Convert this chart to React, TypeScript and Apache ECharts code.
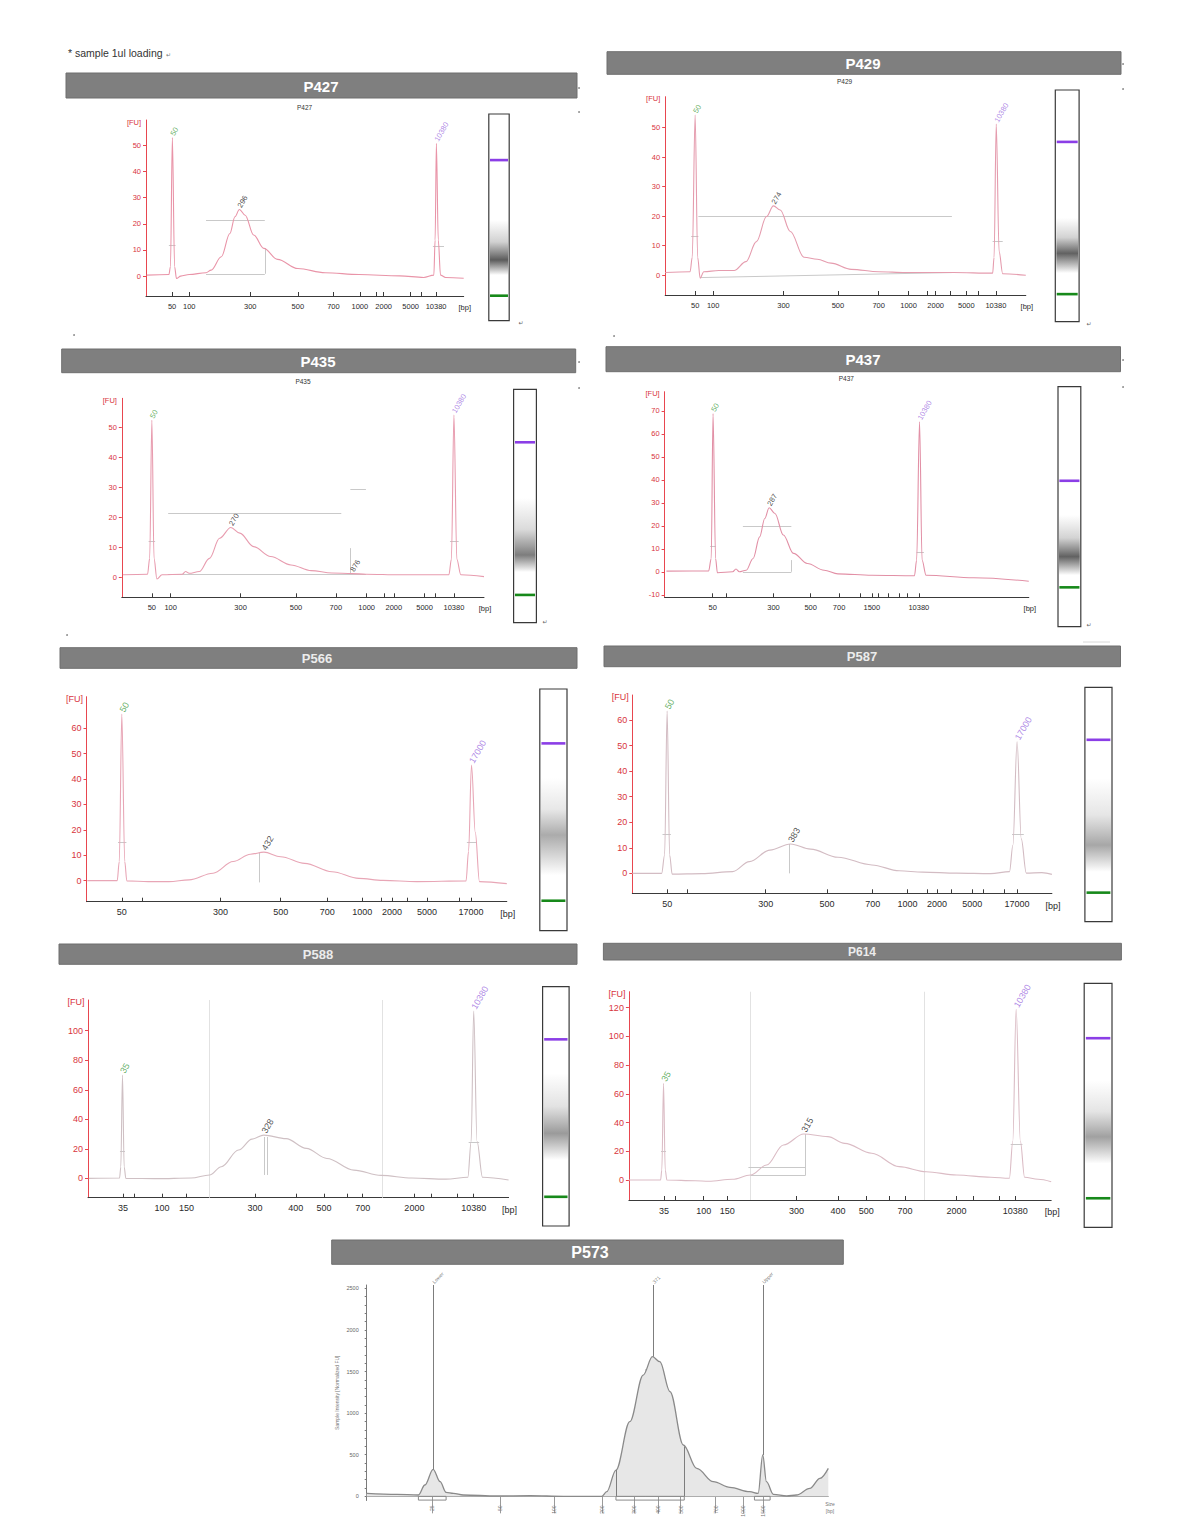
import React, { useEffect, useRef } from "react";
import * as echarts from "echarts";

const FONT = '"Liberation Sans Narrow", "Liberation Sans", Arial, sans-serif';

// ---------------- data (x = migration position 0..100 along each axis, y = FU) ----------------
const P427_trace = [[0.2,0.4],[7.2,0.6],[7.7,3.6],[8.3,53],[9.0,3.6],[9.6,-0.9],[10.9,0],[13.6,0.6],[18.9,1.3],[20.5,2.3],[23.7,7.4],[26.4,16.3],[28.0,22.7],[29.4,25.5],[31.2,23.3],[33.9,15.7],[37.1,10.6],[41.4,6.4],[47.8,2.9],[56.4,1.3],[67.1,0.6],[79.9,0.1],[87.4,-0.5],[90.6,0.4],[91.0,13.8],[91.4,50.8],[92.0,13.8],[92.7,0.4],[94.3,-0.5],[100,-0.8]];
const P427_tickPos = [8.2,13.6,32.8,47.8,59.0,67.3,74.8,83.3,91.3];
const P427_tickLbl = ["50","100","300","500","700","1000","2000","5000","10380"];
const P427_minor = [72.4,86.5];
const P427_yRange = [-7.6, 59.7];
const P427_peaks = [[8.3,53,"50",0],[29.4,25.5,"296",1],[91.4,50.8,"10380",2]];
const P427_regions = [[18.9,21.4,37.4,21.4],[18.9,0.9,37.4,0.9],[37.4,0.9,37.4,10.6],[7.2,11.9,9.3,11.9],[90.3,11.5,93.8,11.5]];

const P429_trace = [[0,0.9],[6.9,1.2],[7.5,6.1],[8.3,54.3],[9.0,6.1],[9.7,-1.0],[10.7,1.2],[14.9,1.6],[19.1,1.6],[22.4,4.6],[25.3,11.4],[28.1,19.9],[30.0,23.5],[31.9,22.1],[34.7,14.8],[38.5,6.1],[42.2,5.4],[46.0,4.1],[51.6,2.0],[59.2,1.2],[66.7,0.9],[79.9,0.9],[90.8,0.7],[91.2,6],[91.8,51.2],[92.6,8],[93.6,0.5],[100,0]];
const P429_tickPos = [8.3,13.3,32.8,47.9,59.2,67.5,75.0,83.5,91.7];
const P429_tickLbl = ["50","100","300","500","700","1000","2000","5000","10380"];
const P429_minor = [72.6,79.0,86.8];
const P429_yRange = [-6.7, 60.5];
const P429_peaks = [[8.3,54.3,"50",0],[30.0,23.5,"274",1],[91.8,51.2,"10380",2]];
const P429_regions = [[9.2,20.1,79.5,20.1],[9.7,-0.8,79.5,0.9],[7.2,13.3,9.2,13.3],[90.8,11.6,93.6,11.6]];

const P435_trace = [[0.3,0.8],[7.1,1.0],[7.7,6.3],[8.3,52.4],[8.9,6.3],[9.7,-0.6],[11.1,0.8],[16.7,1.0],[17.6,1.9],[18.6,1.3],[21.4,1.9],[24.2,6.3],[27.0,13.0],[30.1,16.6],[32.6,14.7],[36.4,10.2],[41.1,6.9],[46.7,4.1],[52.3,2.2],[58.0,1.4],[63.6,1.2],[67.4,1.0],[76.7,0.8],[90.3,0.8],[91.0,6],[91.7,54.1],[92.5,6],[93.6,0.8],[100,0.2]];
const P435_tickPos = [8.3,13.5,32.8,48.1,59.1,67.6,75.1,83.6,91.7];
const P435_tickLbl = ["50","100","300","500","700","1000","2000","5000","10380"];
const P435_minor = [72.5,86.6];
const P435_yRange = [-6.7, 59.7];
const P435_peaks = [[8.3,52.4,"50",0],[30.1,16.6,"270",1],[63.6,1.2,"876",1],[91.7,54.1,"10380",2]];
const P435_regions = [[12.8,21.3,60.6,21.3],[63.1,29.3,67.4,29.3],[12.8,1.0,67.4,1.0],[63.1,1.0,63.1,9.7],[7.4,12,9.2,12],[90.6,11.9,93.0,11.9]];

const P437_trace = [[0.5,0.3],[12.1,0.4],[12.8,5.8],[13.3,68.9],[14.0,5.8],[14.5,-0.4],[18.7,0],[19.6,1.2],[20.5,0],[22.4,0.7],[24.3,5.8],[26.1,15.2],[27.5,23.2],[28.7,27.9],[30.3,25.4],[32.6,16.0],[35.4,8.0],[39.2,3.6],[43.8,0.7],[47.6,-0.9],[56.9,-1.5],[68.6,-1.7],[69.2,5],[70.0,65.3],[70.7,5],[71.8,-1.5],[84.9,-2.6],[100,-4.1]];
const P437_tickPos = [13.2,29.9,40.1,47.9,56.9,69.8];
const P437_tickLbl = ["50","300","500","700","1500","10380"];
const P437_minor = [17.0,53.6,58.8,61.4,64.4,66.5];
const P437_yRange = [-11.1, 78.4];
const P437_peaks = [[13.3,68.9,"50",0],[28.7,27.9,"287",1],[70.0,65.3,"10380",2]];
const P437_regions = [[21.5,19.9,34.8,19.9],[21.5,0,34.8,0],[34.8,0,34.8,5.1],[12.5,11,14.0,11],[69.2,8.7,71.2,8.7]];

const P566_trace = [[0.2,0],[7.3,0],[7.8,7.5],[8.4,65.6],[9.1,7.5],[9.6,-0.1],[14.7,-0.4],[19.6,-0.4],[24.4,0.3],[30.1,2.9],[34.9,7.5],[39.0,10.4],[42.2,11.2],[46.2,9.4],[51.9,6.8],[58.4,3.5],[64.8,0.9],[70.5,0.1],[78.6,-0.4],[90.3,-0.1],[90.9,11.5],[91.6,45.5],[92.5,19],[93.5,-0.4],[100,-1.2]];
const P566_tickPos = [8.4,31.9,46.2,57.3,65.6,72.7,81.0,91.5];
const P566_tickLbl = ["50","300","500","700","1000","2000","5000","17000"];
const P566_minor = [13.3,70.1,76.2,88.7];
const P566_yRange = [-8.3, 72.4];
const P566_peaks = [[8.4,65.6,"50",0],[42.2,11.2,"432",1],[91.6,45.5,"17000",2]];
const P566_regions = [[41.1,-0.7,41.1,11],[7.5,15.2,9.5,15.2],[90.5,15,92.8,15]];

const P587_trace = [[0,0],[7.0,0],[7.7,7.2],[8.3,63.5],[8.9,7.2],[9.5,-0.3],[16.6,-0.1],[23.9,0.7],[27.9,4.6],[32.8,9.1],[37.7,11.5],[42.5,9.5],[49.0,6.3],[57.1,3.3],[63.6,1.0],[69.2,0.5],[77.3,0.1],[85.4,-0.1],[89.9,0.7],[90.7,11],[91.7,51.5],[92.7,13.5],[93.9,0.1],[97.6,0.3],[100,-0.4]];
const P587_tickPos = [8.3,31.8,46.4,57.3,65.6,72.6,81.0,91.7];
const P587_tickLbl = ["50","300","500","700","1000","2000","5000","17000"];
const P587_minor = [13.2,70.2,76.1,83.6,88.7];
const P587_yRange = [-7.8, 69.8];
const P587_peaks = [[8.3,63.5,"50",0],[37.7,11.5,"383",1],[91.7,51.5,"17000",2]];
const P587_regions = [[37.5,0,37.5,11.5],[7.2,15.3,9.2,15.3],[90.5,15.5,93.3,15.5]];

const P588_trace = [[0.2,0],[7.5,0.2],[7.8,7.7],[8.2,70.0],[8.6,7.7],[9.0,0],[16.4,-0.2],[24.5,0.2],[28.9,2.3],[31.7,7.9],[35.8,19.2],[39.0,26.6],[41.8,29.3],[47.1,26.9],[51.9,20.3],[56.8,13.5],[63.2,5.6],[69.7,2.0],[77.0,0.2],[85.1,-0.5],[90.3,0.7],[91.1,25],[91.7,113.3],[92.5,25],[93.8,0.7],[100,-1.1]];
const P588_tickPos = [8.3,17.6,23.4,39.7,49.4,56.1,65.3,77.6,91.7];
const P588_tickLbl = ["35","100","150","300","400","500","700","2000","10380"];
const P588_minor = [10.9,28.9,61.6,70.0,81.6,87.9];
const P588_yRange = [-13.1, 120.8];
const P588_peaks = [[8.2,70.0,"35",0],[41.8,29.3,"328",1],[91.7,113.3,"10380",2]];
const P588_regions = [[41.8,2.3,41.8,28],[42.6,2.3,42.6,28],[7.6,18.5,8.8,18.5],[90.5,24.6,93.0,24.6]];
const P588_guides = [28.9, 70.0];

const P614_trace = [[0,0],[7.5,0],[7.8,7],[8.2,67.3],[8.6,7],[9.0,0],[15.7,-0.5],[18.9,-0.9],[24.5,0.5],[28.8,3.5],[32.6,10.4],[36.6,24.4],[41.4,32.0],[47.1,30.2],[51.1,25.5],[57.5,18.6],[64.0,9.3],[70.4,5.8],[77.6,3.5],[85.7,1.9],[90.1,1.2],[90.9,27],[91.7,118.8],[92.7,27],[93.7,1.9],[96.9,0.5],[100,-1.2]];
const P614_tickPos = [8.3,17.7,23.3,39.7,49.5,56.2,65.4,77.6,91.5];
const P614_tickLbl = ["35","100","150","300","400","500","700","2000","10380"];
const P614_minor = [10.9,28.8,61.7,70.0,81.5,87.7];
const P614_yRange = [-13.9, 131];
const P614_peaks = [[8.2,67.3,"35",0],[41.4,32.0,"315",1],[91.7,118.8,"10380",2]];
const P614_regions = [[28.3,8.6,41.7,8.6],[28.8,3.0,41.7,3.0],[41.7,3.0,41.7,32],[7.6,19.7,8.8,19.7],[90.4,24.6,93.2,24.6]];
const P614_guides = [28.8, 70.0];

const Y_TICKS_50 = [0,10,20,30,40,50];
const Y_TICKS_70 = [-10,0,10,20,30,40,50,60,70];
const Y_TICKS_60 = [0,10,20,30,40,50,60];
const Y_TICKS_100 = [0,20,40,60,80,100];
const Y_TICKS_120 = [0,20,40,60,80,100,120];

// gel lanes: positions in % of lane height (top -> bottom)
const GEL_upper = [22.3,22.4,22.7,39.2,22.5,22.4,22.0,22.5];
const GEL_lower = [87.9,88.1,88.1,83.6,87.6,87.6,87.8,88.1];
const GEL_smear = [[51.3,70.6,77.9],[55.2,70.5,79.0],[46.6,71.0,78.3],[53.5,70.8,78.5],[36.8,60.4,77.0],[38.7,67.3,78.7],[36.1,61.3,72.4],[39.9,62.9,73.9]];
const GEL_intensity = [0.78,0.75,0.62,0.75,0.4,0.42,0.48,0.45];

// P573 (TapeStation)
const P573_trace = [[0,36],[6.5,24],[11.2,16],[12.6,136],[14.4,324],[15.9,176],[17.2,48],[18.8,36],[20.9,16],[28.2,4],[35.4,8],[42.6,0],[50.9,0],[52.0,56],[54.0,316],[57.0,897],[59.9,1458],[61.9,1678],[63.5,1618],[65.7,1258],[68.6,617],[71.5,336],[75.1,176],[78.7,108],[83.0,56],[84.8,36],[85.8,497],[86.6,176],[88.1,24],[91.0,4],[93.1,16],[96.0,96],[98.2,216],[100,336]];
const P573_tickPos = [14.1,28.9,40.6,51.0,58.0,63.2,68.0,75.6,81.6,85.9];
const P573_tickLbl = ["25","50","100","200","300","400","500","700","1000","1500"];
const P573_yTicks = [0,500,1000,1500,2000,2500];
const P573_yMinor = [100,200,300,400,600,700,800,900,1100,1200,1300,1400,1600,1700,1800,1900,2100,2200,2300,2400];
const P573_yRange = [-50, 2540];
const P573_markers = [[14.4,324,"Lower"],[62.1,1678,"371"],[85.8,497,"Upper"]];
const P573_regions = [[54.0,0,54.0,316],[68.8,0,68.8,600]];
const P573_faint = [[60.4,0,60.4,1530]];
const P573_boxes = [[11.2,17.2],[54.0,68.8],[84.0,87.4]];

// ---------------- layout ----------------
const LAYOUT: any = {
  P427: { grid: [146, 120, 317.7, 176], lane: [488.8, 114, 20.4, 206.7], bar: [66, 73, 511, 25], title: [321, 86], sub: [304.6, 107.3], fs: 7.5, tfs: 15, tcol: "#ffffff" },
  P429: { grid: [665.2, 96.7, 360.6, 198.3], lane: [1055.3, 90, 23.8, 231.7], bar: [607, 51.7, 514, 22.6], title: [863, 63], sub: [844.6, 81.7], fs: 7.5, tfs: 15, tcol: "#ffffff" },
  P435: { grid: [121.8, 398.3, 362.2, 199], lane: [513.6, 389.3, 22.8, 233.4], bar: [61.7, 349, 514, 23.7], title: [318, 361], sub: [303, 381.7], fs: 7.5, tfs: 15, tcol: "#ffffff" },
  P437: { grid: [664.6, 391.7, 364.2, 205.6], lane: [1058, 386.7, 22.8, 240], bar: [606, 346.7, 514.5, 25], title: [863, 359], sub: [846.3, 378.3], fs: 7.5, tfs: 15, tcol: "#ffffff" },
  P566: { grid: [86.5, 696.7, 420.3, 205], lane: [539.8, 689, 27.2, 241.7], bar: [60, 647.7, 517, 20.6], title: [317, 658], sub: null, fs: 9, tfs: 13, tcol: "#ececec" },
  P587: { grid: [632.3, 695, 419.6, 198.3], lane: [1084.9, 687.3, 27.1, 234.4], bar: [604, 646, 516.5, 20.7], title: [862, 656.3], sub: null, fs: 9, tfs: 13, tcol: "#ececec" },
  P588: { grid: [88, 1000, 420.6, 197.7], lane: [542.6, 986.7, 26.5, 239.3], bar: [59, 944, 518, 20.3], title: [318, 954], sub: null, fs: 9, tfs: 13, tcol: "#ececec" },
  P614: { grid: [628.9, 991.7, 422.3, 208.3], lane: [1084.2, 983.3, 27.8, 244], bar: [603.4, 943.3, 518, 16.7], title: [862, 951.7], sub: null, fs: 9, tfs: 12, tcol: "#ececec" },
  P573: { grid: [366.7, 1285, 461.6, 215.5], bar: [331.7, 1240, 511.6, 24.3], title: [590, 1252], fs: 5.5, tfs: 16, tcol: "#ffffff" },
};

const ELECTRO = [
  { name: "P427", trace: P427_trace, tickPos: P427_tickPos, tickLbl: P427_tickLbl, minor: P427_minor, yTicks: Y_TICKS_50, yRange: P427_yRange, peaks: P427_peaks, regions: P427_regions, guides: [], color: "#e994a8" },
  { name: "P429", trace: P429_trace, tickPos: P429_tickPos, tickLbl: P429_tickLbl, minor: P429_minor, yTicks: Y_TICKS_50, yRange: P429_yRange, peaks: P429_peaks, regions: P429_regions, guides: [], color: "#e59cae" },
  { name: "P435", trace: P435_trace, tickPos: P435_tickPos, tickLbl: P435_tickLbl, minor: P435_minor, yTicks: Y_TICKS_50, yRange: P435_yRange, peaks: P435_peaks, regions: P435_regions, guides: [], color: "#e89caf" },
  { name: "P437", trace: P437_trace, tickPos: P437_tickPos, tickLbl: P437_tickLbl, minor: P437_minor, yTicks: Y_TICKS_70, yRange: P437_yRange, peaks: P437_peaks, regions: P437_regions, guides: [], color: "#e290a6" },
  { name: "P566", trace: P566_trace, tickPos: P566_tickPos, tickLbl: P566_tickLbl, minor: P566_minor, yTicks: Y_TICKS_60, yRange: P566_yRange, peaks: P566_peaks, regions: P566_regions, guides: [], color: "#e8a6b6" },
  { name: "P587", trace: P587_trace, tickPos: P587_tickPos, tickLbl: P587_tickLbl, minor: P587_minor, yTicks: Y_TICKS_60, yRange: P587_yRange, peaks: P587_peaks, regions: P587_regions, guides: [], color: "#d3bcc3" },
  { name: "P588", trace: P588_trace, tickPos: P588_tickPos, tickLbl: P588_tickLbl, minor: P588_minor, yTicks: Y_TICKS_100, yRange: P588_yRange, peaks: P588_peaks, regions: P588_regions, guides: P588_guides, color: "#cfc0c4" },
  { name: "P614", trace: P614_trace, tickPos: P614_tickPos, tickLbl: P614_tickLbl, minor: P614_minor, yTicks: Y_TICKS_120, yRange: P614_yRange, peaks: P614_peaks, regions: P614_regions, guides: P614_guides, color: "#dbbcc5" },
];

const MARK_COLORS = ["#3f9e3f", "#222222", "#9b6ce0"];
const AXIS_RED = "#e8464f";
const LABEL_RED = "#d8343d";

function labelFormatter(pos: number[], lbl: string[]) {
  return (v: number) => {
    const k = pos.findIndex((t) => Math.abs(t - v) < 1e-6);
    return k >= 0 ? lbl[k] : "";
  };
}

function buildOption() {
  const grid: any[] = [];
  const xAxis: any[] = [];
  const yAxis: any[] = [];
  const series: any[] = [];
  const graphic: any[] = [];

  const addBar = (L: any, name: string) => {
    const [bx, by, bw, bh] = L.bar;
    graphic.push({ type: "rect", shape: { x: bx, y: by, width: bw, height: bh }, style: { fill: "#7f7f7f", stroke: "#6f6f6f", lineWidth: 1 }, silent: true });
    graphic.push({ type: "text", x: L.title[0], y: L.title[1], style: { text: name, fill: L.tcol, fontSize: L.tfs, fontWeight: "bold", fontFamily: FONT, align: "center", verticalAlign: "middle" }, silent: true });
  };

  ELECTRO.forEach((d, i) => {
    const L = LAYOUT[d.name];
    const [gx, gy, gw, gh] = L.grid;
    grid.push({ left: gx, top: gy, width: gw, height: gh, containLabel: false, outerBoundsMode: "none" });
    xAxis.push({
      type: "value", gridIndex: i, min: 0, max: 100,
      axisLine: { show: true, onZero: false, lineStyle: { color: "#3a3a3a", width: 1 } },
      axisTick: { show: true, inside: true, length: 4, customValues: [...d.tickPos, ...d.minor], lineStyle: { color: "#3a3a3a" } },
      axisLabel: { show: true, customValues: d.tickPos, formatter: labelFormatter(d.tickPos, d.tickLbl), fontSize: L.fs, color: "#2a2a2a", margin: 6, fontFamily: FONT },
      splitLine: { show: false },
    });
    yAxis.push({
      type: "value", gridIndex: i, min: d.yRange[0], max: d.yRange[1],
      axisLine: { show: true, onZero: false, lineStyle: { color: AXIS_RED, width: 1 } },
      axisTick: { show: true, length: 3, customValues: d.yTicks, lineStyle: { color: AXIS_RED } },
      axisLabel: { show: true, customValues: d.yTicks, color: LABEL_RED, fontSize: L.fs, margin: 5, fontFamily: FONT },
      splitLine: { show: false },
    });
    if (d.guides.length) {
      series.push({
        type: "lines", coordinateSystem: "cartesian2d", xAxisIndex: i, yAxisIndex: i, silent: true, z: 1,
        data: d.guides.map((g: number) => ({ coords: [[g, d.yRange[0]], [g, d.yRange[1]]] })),
        lineStyle: { color: "#e2e2e2", width: 1, opacity: 1 },
      });
    }
    series.push({
      type: "lines", coordinateSystem: "cartesian2d", xAxisIndex: i, yAxisIndex: i, silent: true, z: 2,
      data: d.regions.map((r: number[]) => ({ coords: [[r[0], r[1]], [r[2], r[3]]] })),
      lineStyle: { color: "#c9c9c9", width: 1, opacity: 1 },
    });
    series.push({
      type: "line", xAxisIndex: i, yAxisIndex: i, data: d.trace, showSymbol: false, symbol: "none",
      smooth: 0.35, smoothMonotone: "x", silent: true, z: 3,
      lineStyle: { color: d.color, width: 1.1 },
    });
    series.push({
      type: "scatter", xAxisIndex: i, yAxisIndex: i, silent: true, z: 4, symbolSize: 1,
      itemStyle: { color: "rgba(0,0,0,0)" },
      data: d.peaks.map((p: any[]) => ({ value: [p[0], p[1]], name: p[2], label: { color: MARK_COLORS[p[3]] } })),
      label: { show: true, formatter: "{b}", position: "top", distance: 2, rotate: 60, align: "left", verticalAlign: "middle", fontSize: L.fs, fontFamily: FONT },
    });
    addBar(L, d.name);
    if (L.sub) {
      graphic.push({ type: "text", x: L.sub[0], y: L.sub[1], style: { text: d.name, fill: "#333", fontSize: 6.5, fontFamily: FONT, align: "center", verticalAlign: "middle" }, silent: true });
    }
    graphic.push({ type: "text", x: gx - 12, y: gy + 2, style: { text: "[FU]", fill: LABEL_RED, fontSize: L.fs, fontFamily: FONT, align: "center", verticalAlign: "middle" }, silent: true });
    graphic.push({ type: "text", x: gx + gw + 1, y: gy + gh + 6 + L.fs * 0.7, style: { text: "[bp]", fill: "#2a2a2a", fontSize: L.fs, fontFamily: FONT, align: "center", verticalAlign: "middle" }, silent: true });
  });

  // ---- P573 ----
  const iB = ELECTRO.length;
  const LB = LAYOUT.P573;
  grid.push({ left: LB.grid[0], top: LB.grid[1], width: LB.grid[2], height: LB.grid[3], containLabel: false, outerBoundsMode: "none" });
  xAxis.push({
    type: "value", gridIndex: iB, min: 0, max: 100,
    axisLine: { show: true, onZero: true, lineStyle: { color: "#9a9a9a", width: 1 } },
    axisTick: { show: true, inside: false, length: 17, customValues: P573_tickPos, lineStyle: { color: "#9a9a9a" } },
    axisLabel: { show: true, customValues: P573_tickPos, formatter: labelFormatter(P573_tickPos, P573_tickLbl), rotate: 90, fontSize: 5, color: "#777", margin: 5, fontFamily: FONT },
    splitLine: { show: false },
  });
  yAxis.push({
    type: "value", gridIndex: iB, min: P573_yRange[0], max: P573_yRange[1],
    name: "Sample Intensity [Normalized FU]", nameLocation: "middle", nameGap: 27, nameRotate: 90,
    nameTextStyle: { fontSize: 5, color: "#777", fontFamily: FONT },
    axisLine: { show: true, onZero: false, lineStyle: { color: "#7a7a7a", width: 1 } },
    axisTick: { show: true, length: 2, customValues: [...P573_yTicks, ...P573_yMinor], lineStyle: { color: "#7a7a7a" } },
    axisLabel: { show: true, customValues: P573_yTicks, formatter: (v: number) => String(v), color: "#666", fontSize: 5.5, margin: 8, fontFamily: FONT },
    splitLine: { show: false },
  });
  series.push({
    type: "line", xAxisIndex: iB, yAxisIndex: iB, data: P573_trace, showSymbol: false, symbol: "none",
    smooth: 0.35, smoothMonotone: "x", silent: true, z: 3,
    lineStyle: { color: "#8a8a8a", width: 1.3 },
    areaStyle: { color: "#e7e7e7", opacity: 1 },
  });
  series.push({
    type: "lines", coordinateSystem: "cartesian2d", xAxisIndex: iB, yAxisIndex: iB, silent: true, z: 4,
    data: [
      ...P573_markers.map((m: any[]) => ({ coords: [[m[0], m[1]], [m[0], P573_yRange[1]]] })),
      ...P573_regions.map((r) => ({ coords: [[r[0], r[1]], [r[2], r[3]]] })),
    ],
    lineStyle: { color: "#7d7d7d", width: 1, opacity: 1 },
  });
  series.push({
    type: "lines", coordinateSystem: "cartesian2d", xAxisIndex: iB, yAxisIndex: iB, silent: true, z: 2,
    data: P573_faint.map((r) => ({ coords: [[r[0], r[1]], [r[2], r[3]]] })),
    lineStyle: { color: "#cfcfcf", width: 1, opacity: 1 },
  });
  series.push({
    type: "lines", coordinateSystem: "cartesian2d", xAxisIndex: iB, yAxisIndex: iB, silent: true, z: 4, polyline: true,
    data: P573_boxes.map((b) => ({ coords: [[b[0], 0], [b[1], 0], [b[1], -45], [b[0], -45], [b[0], 0]] })),
    lineStyle: { color: "#8a8a8a", width: 1, opacity: 1 },
  });
  series.push({
    type: "scatter", xAxisIndex: iB, yAxisIndex: iB, silent: true, z: 5, symbolSize: 1,
    itemStyle: { color: "rgba(0,0,0,0)" },
    data: P573_markers.map((m: any[]) => ({ value: [m[0], P573_yRange[1]], name: m[2] })),
    label: { show: true, formatter: "{b}", position: "top", distance: 2, rotate: 45, align: "left", verticalAlign: "middle", fontSize: 5, color: "#555", fontFamily: FONT },
  });
  addBar(LB, "P573");
  graphic.push({ type: "text", x: 830, y: 1507, style: { text: "Size\n[bp]", fill: "#777", fontSize: 5, fontFamily: FONT, align: "center", verticalAlign: "middle", lineHeight: 7 }, silent: true });

  // ---- gel lanes ----
  ELECTRO.forEach((d, k) => {
    const L = LAYOUT[d.name];
    const gi = iB + 1 + k;
    const [lx, ly, lw, lh] = L.lane;
    grid.push({ left: lx, top: ly, width: lw, height: lh, show: true, borderColor: "#3a3a3a", borderWidth: 1.2, backgroundColor: "#ffffff", containLabel: false, outerBoundsMode: "none" });
    xAxis.push({ type: "value", gridIndex: gi, min: 0, max: 1, show: false });
    yAxis.push({ type: "value", gridIndex: gi, min: 0, max: 100, inverse: true, show: false });
    const sm = GEL_smear[k];
    series.push({
      type: "custom", xAxisIndex: gi, yAxisIndex: gi, silent: true, z: 2,
      data: [[sm[0], sm[1], sm[2], GEL_intensity[k]]],
      renderItem: (params: any, api: any) => {
        const t = api.value(0), m = api.value(1), b = api.value(2), a = api.value(3);
        const p0 = api.coord([0, t]);
        const p1 = api.coord([1, b]);
        const r = (m - t) / (b - t);
        return {
          type: "rect",
          shape: { x: p0[0] + 1, y: p0[1], width: p1[0] - p0[0] - 2, height: p1[1] - p0[1] },
          style: {
            fill: new echarts.graphic.LinearGradient(0, 0, 0, 1, [
              { offset: 0, color: "rgba(45,45,45,0)" },
              { offset: r * 0.55, color: `rgba(45,45,45,${a * 0.28})` },
              { offset: r * 0.85, color: `rgba(45,45,45,${a * 0.75})` },
              { offset: r, color: `rgba(45,45,45,${a})` },
              { offset: 1, color: "rgba(45,45,45,0)" },
            ]),
          },
        };
      },
    });
    series.push({
      type: "custom", xAxisIndex: gi, yAxisIndex: gi, silent: true, z: 3,
      data: [[GEL_upper[k], 0], [GEL_lower[k], 1]],
      renderItem: (params: any, api: any) => {
        const y = api.coord([0, api.value(0)])[1];
        const x0 = api.coord([0.06, 0])[0];
        const x1 = api.coord([0.94, 0])[0];
        return { type: "rect", shape: { x: x0, y: y - 1.3, width: x1 - x0, height: 2.6 }, style: { fill: api.value(1) === 0 ? "#8b3ee6" : "#17891a" } };
      },
    });
  });

  // ---- page annotations ----
  graphic.push({ type: "text", x: 68, y: 53, style: { text: "* sample 1ul loading", fill: "#333", fontSize: 10.5, fontFamily: FONT, align: "left", verticalAlign: "middle" }, silent: true });
  graphic.push({ type: "text", x: 166, y: 54, style: { text: "\u21B5", fill: "#777", fontSize: 6, fontFamily: "DejaVu Sans", align: "left", verticalAlign: "middle" }, silent: true });
  [[521, 322], [1089, 323], [545, 621], [1089, 624]].forEach((p) => {
    graphic.push({ type: "text", x: p[0], y: p[1], style: { text: "\u21B5", fill: "#666", fontSize: 6, fontFamily: "DejaVu Sans", align: "center", verticalAlign: "middle" }, silent: true });
  });
  [[579, 88], [579, 112], [1123, 64], [1123, 89], [579, 362], [579, 388], [1123, 360], [1123, 387], [74, 335], [614, 336], [67, 635]].forEach((p) => {
    graphic.push({ type: "circle", shape: { cx: p[0], cy: p[1], r: 0.8 }, style: { fill: "#777" }, silent: true });
  });
  graphic.push({ type: "line", shape: { x1: 1083, y1: 642, x2: 1110, y2: 642 }, style: { stroke: "#d8d8d8", lineWidth: 1 }, silent: true });

  return {
    animation: false,
    backgroundColor: "#ffffff",
    textStyle: { fontFamily: FONT },
    grid, xAxis, yAxis, series, graphic,
  };
}

export default function App() {
  const ref = useRef<HTMLDivElement>(null);
  useEffect(() => {
    if (!ref.current) return;
    const chart = echarts.init(ref.current, null, { renderer: "svg" });
    chart.setOption(buildOption() as any);
    return () => chart.dispose();
  }, []);
  return <div ref={ref} style={{ position: "absolute", left: 0, top: 0, width: 1185, height: 1535, background: "#fff" }} />;
}
